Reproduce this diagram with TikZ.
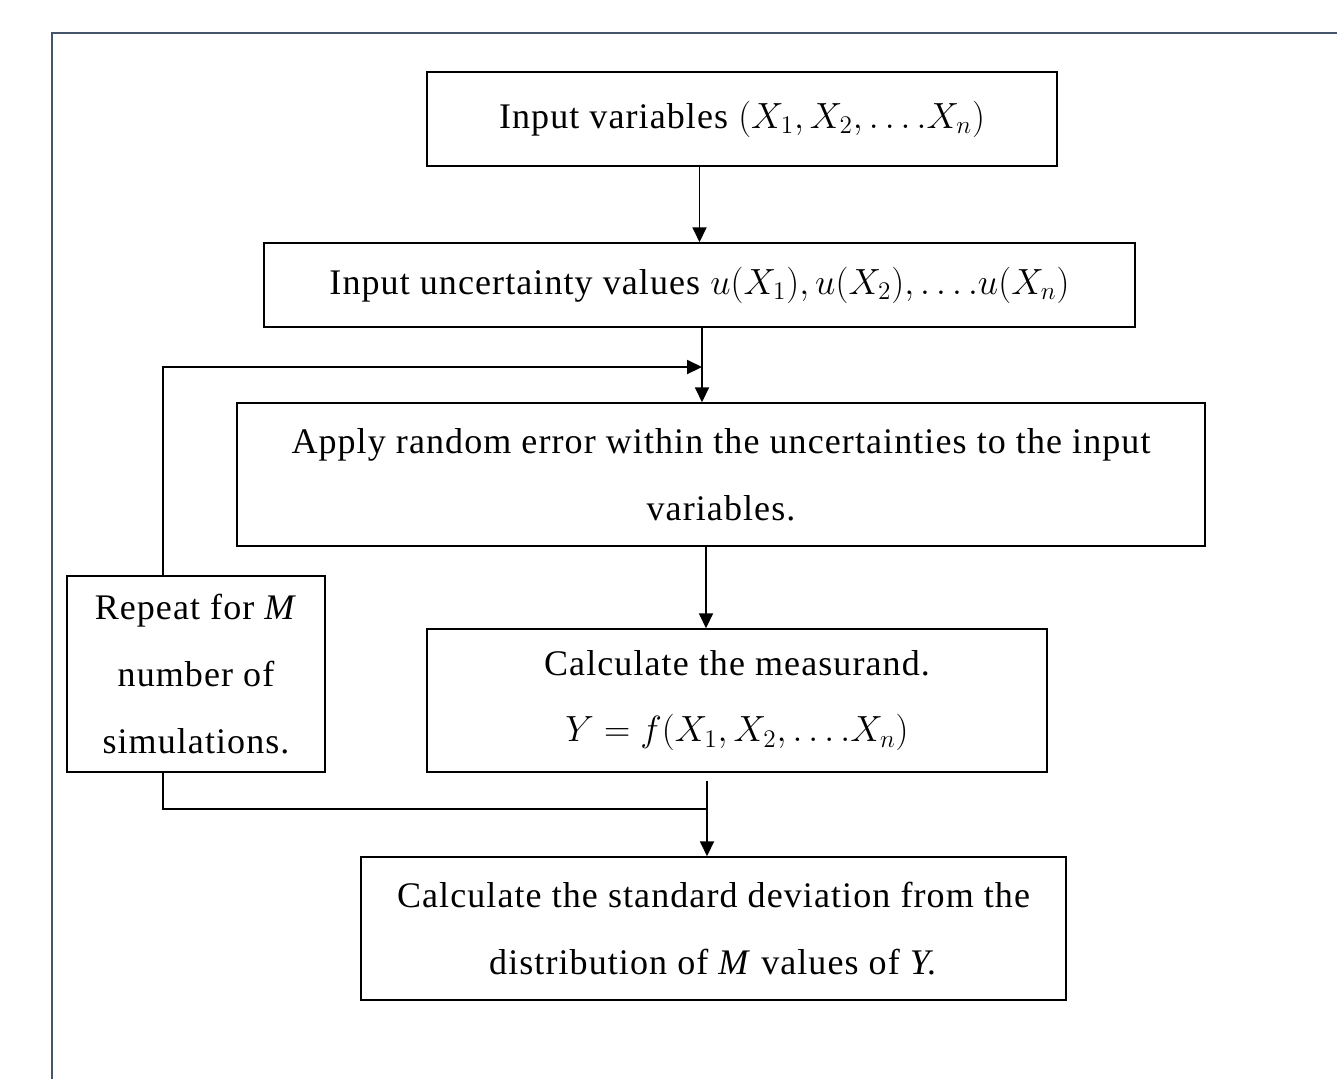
\documentclass[tikz,border=0pt]{standalone}
\usepackage{fontspec}
\setmainfont[LetterSpace=3]{Liberation Serif}
\usetikzlibrary{arrows.meta}
\definecolor{framecol}{HTML}{44546A}
\begin{document}
\begin{tikzpicture}[x=0.02cm,y=-0.02cm,
    box/.style={draw,line width=0.9pt,align=center,inner sep=0pt,
        font=\fontsize{20.5}{38}\selectfont},
    arr/.style={line width=0.9pt,-{Triangle[width=8pt,length=8.5pt]}},
    line/.style={line width=0.9pt}]

    \useasboundingbox (0,0) rectangle (1337,1079);
    \draw[line width=1.7pt,color=framecol] (52,1079)--(52,33)--(1337,33);

    \node[box,minimum width=12.6cm,minimum height=1.88cm] (inp) at (742,119)
        {Input variables $(X_1,X_2,\dots.X_n)$};
    \node[box,minimum width=17.42cm,minimum height=1.68cm] (unc) at (699.5,285)
        {Input uncertainty values $u(X_1),u(X_2),\dots.u(X_n)$};
    \node[box,minimum width=19.36cm,minimum height=2.86cm] (err) at (721,474.5)
        {Apply random error within the uncertainties to the input\\variables.};
    \node[box,minimum width=5.16cm,minimum height=3.92cm] (rep) at (196,674)
        {Repeat for \textit{M}\\number of\\simulations.};
    \node[box,minimum width=12.4cm,minimum height=2.86cm] (meas) at (737,700.5)
        {Calculate the measurand.\\$Y=f(X_1,X_2,\dots.X_n)$};
    \node[box,minimum width=14.1cm,minimum height=2.86cm] (sd) at (713.5,928.5)
        {Calculate the standard deviation from the\\distribution of \textit{M} values of \textit{Y.}};

    % joins
    \coordinate (rl) at (163,0);
    \coordinate (loop) at (702,367);
    \coordinate (mid) at (706,0);
    \coordinate (join) at (707,809);
    \coordinate (gap) at (707,781);

    \draw[arr] (inp.south -| unc) -- (unc.north);
    \draw[arr] (unc.south -| loop) -- (err.north -| loop);
    \draw[arr] (rep.north -| rl) |- (loop);
    \draw[arr] (err.south -| mid) -- (meas.north -| mid);
    \draw[line] (rep.south -| rl) |- (join);
    \draw[arr] (gap) -- (sd.north -| gap);
\end{tikzpicture}
\end{document}
